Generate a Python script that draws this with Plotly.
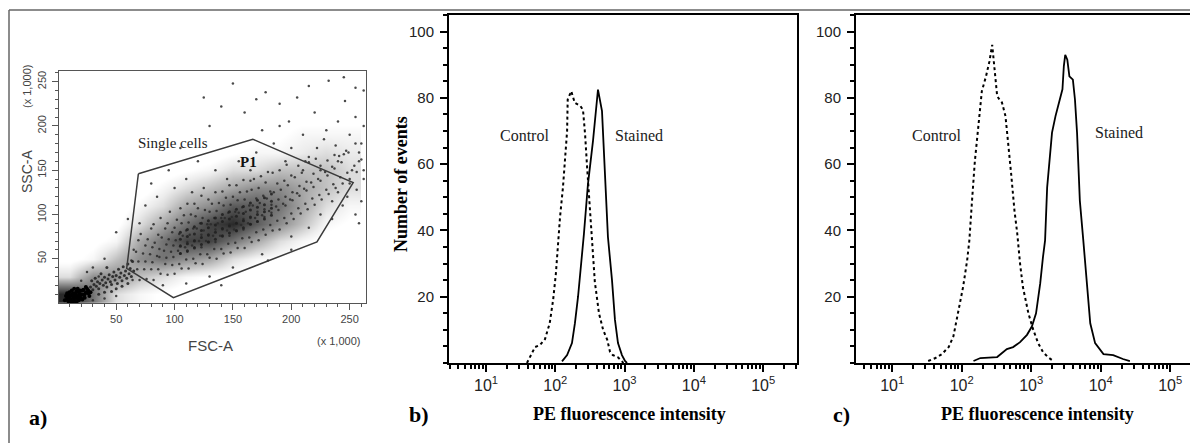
import plotly.graph_objects as go

# The page body keeps an 8 px margin, so the figure is 8 px smaller than the window
W, H = 1190, 435
OFF = 8

# ---------------- panel a) : FSC-A vs SSC-A dot plot (x 1,000) ----------------
debris = [(6,3),(8,5),(9,2),(10,7),(11,4),(12,9),(13,6),(14,3),(15,11),(16,8),(17,5),(18,12),
          (19,7),(20,10),(21,14),(22,9),(23,6),(24,12),(25,16),(26,11),(27,8),(10,12),(12,14),
          (14,16),(9,9),(7,8),(11,2),(13,11),(16,13),(18,3),(20,5),(22,15),(24,18),(17,16),
          (15,6),(19,14),(21,4),(13,1),(8,11),(23,10),(26,14),(28,12),(14,9),(18,9),(16,1)]

tail = [(28,18),(30,15),(31,21),(33,19),(34,24),(35,16),(36,22),(38,26),(39,20),(40,29),(41,23),
        (42,18),(43,27),(44,32),(45,24),(46,21),(47,30),(48,35),(49,26),(50,31),(51,22),(52,38),
        (53,29),(54,34),(55,25),(56,41),(57,31),(58,36),(59,28),(60,44),(61,33),(62,39),(63,30),
        (64,47),(65,36),(29,25),(32,28),(37,33),(42,40),(46,13),(50,16),(55,19),(35,10),(40,12),(60,22)]

cloud = [(64,26),(68,38),(63,48),(67,58),(69,71),
         (70,26),(74,38),(69,47),(73,56),(75,65),(71,78),
         (76,27),(80,38),(75,47),(79,55),(81,63),(77,72),(80,84),
         (82,26),(86,38),(81,46),(85,53),(87,61),(83,68),(86,77),(82,89),
         (88,33),(92,44),(87,52),(91,59),(93,66),(89,74),(92,84),(88,96),
         (94,32),(98,43),(93,51),(97,58),(99,65),(95,72),(98,80),(94,90),(96,103),
         (100,33),(104,44),(99,52),(103,59),(105,65),(101,71),(104,78),(100,85),(102,94),(105,107),
         (106,39),(110,49),(105,56),(109,63),(111,69),(107,76),(110,82),(106,90),(108,99),(111,112),
         (112,39),(116,50),(111,58),(115,65),(117,71),(113,77),(116,84),(112,91),(114,100),(117,112),
         (118,45),(122,55),(117,63),(121,70),(123,77),(119,84),(122,90),(118,98),(120,107),(123,121),
         (124,44),(128,55),(123,63),(127,70),(129,76),(125,82),(128,89),(124,96),(126,105),(129,117),
         (130,51),(134,61),(129,69),(133,76),(135,83),(131,89),(134,96),(130,103),(132,112),(135,125),
         (136,50),(140,61),(135,69),(139,76),(141,83),(137,90),(140,96),(136,104),(138,113),(141,126),
         (142,56),(146,67),(141,75),(145,82),(147,89),(143,96),(146,102),(142,110),(144,119),(147,133),
         (148,57),(152,68),(147,76),(151,83),(153,90),(149,97),(152,103),(148,111),(150,120),(153,133),
         (154,62),(158,73),(153,81),(157,88),(159,95),(155,102),(158,108),(154,116),(156,125),(159,139),
         (160,62),(164,74),(159,83),(163,90),(165,96),(161,103),(164,110),(160,117),(162,126),(165,138),
         (166,69),(170,80),(165,89),(169,96),(171,103),(167,110),(170,118),(166,128),(168,140),
         (172,71),(176,83),(171,92),(175,99),(177,106),(173,113),(176,121),(172,130),(174,143),
         (178,77),(182,88),(177,97),(181,104),(183,111),(179,118),(182,126),(178,136),(180,148),
         (184,82),(188,93),(183,102),(187,109),(189,117),(185,125),(188,135),(184,147),
         (190,83),(194,96),(189,105),(193,112),(195,120),(191,128),(194,138),(190,150),
         (196,90),(200,101),(195,110),(199,117),(201,125),(197,133),(200,144),(196,156),
         (202,95),(206,107),(201,116),(205,124),(207,132),(203,142),(206,155),
         (208,101),(212,112),(207,121),(211,129),(213,137),(209,147),(212,160),
         (214,106),(218,118),(213,127),(217,136),(219,146),(215,159),
         (220,111),(224,122),(219,131),(223,140),(225,150),(221,163),
         (226,117),(230,128),(225,138),(229,148),(231,161),
         (232,123),(236,134),(231,144),(235,154),(237,167),
         (238,130),(242,142),(237,152),(241,166),
         (244,135),(248,147),(243,159),(247,172),
         (250,140),(254,155),(249,170),
         (256,148),(260,162),(255,180)]

core = [(105,56),(105,64),(105,72),(105,80),(111,59),(111,67),(111,75),(111,83),
        (117,62),(117,70),(117,78),(117,86),(123,66),(123,74),(123,82),(123,90),
        (129,69),(129,77),(129,85),(129,93),(135,72),(135,80),(135,88),(135,96),
        (141,76),(141,84),(141,92),(141,100),(147,79),(147,87),(147,95),(147,103),
        (153,82),(153,90),(153,98),(153,106),(159,85),(159,93),(159,101),(159,109),
        (165,89),(165,97),(165,105),(165,113),(171,92),(171,100),(171,108),(171,116),
        (177,95),(177,103),(177,111),(177,119),(183,99),(183,107),(183,115),(183,123)]

outliers = [(150,248),(178,238),(205,232),(232,251),(246,228),(255,243),(220,215),(198,205),
            (240,205),(255,210),(230,195),(210,190),(250,190),(260,180),(238,178),(222,175),
            (245,168),(258,160),(252,150),(262,140),(256,128),(248,120),(260,115),(244,110),
            (255,100),(235,95),(258,90),(120,160),(105,175),(130,200),(140,222),(160,215),
            (95,150),(85,120),(75,110),(60,95),(50,80),(110,140),(135,150),(155,160),(170,170),
            (185,180),(190,200),(175,195),(200,175),(215,165),(228,185),(262,200),(262,240),
            (245,255),(215,245),(190,225),(170,230),(125,232),(100,130),(70,90),(80,135),
            (65,60),(40,50),(30,40),(150,40),(175,55),(200,75),(215,85),(225,100),(180,48),
            (130,30),(110,22),(90,20),(140,20),(200,60),(235,115),(240,125),(250,135),(262,150),
            (258,170),(240,160),(225,155),(210,150),(195,160),(165,150),(145,140),(125,130),
            (115,125),(30,3),(40,5),(50,8),(35,30),(20,25),(25,35)]

# event density (relative shade, 0 = empty, 9 = black)
dens_fsc = [10, 30, 50, 70, 90, 110, 130, 150, 170, 190, 210, 230, 250]
dens_ssc = [10, 30, 50, 70, 90, 110, 130, 150, 170, 190, 210, 230, 250]
density = [
    [9.0, 6.0, 2.0, 1.0, 0.5, 0.0, 0.0, 0.0, 0.0, 0.0, 0.0, 0.0, 0.0],
    [2.0, 5.0, 5.0, 3.0, 2.0, 1.0, 0.5, 0.3, 0.0, 0.0, 0.0, 0.0, 0.0],
    [0.3, 1.0, 3.0, 5.0, 6.0, 5.0, 4.0, 2.0, 1.0, 0.5, 0.2, 0.0, 0.0],
    [0.0, 0.3, 1.0, 4.0, 6.0, 8.0, 8.0, 6.0, 4.0, 2.0, 1.0, 0.3, 0.0],
    [0.0, 0.0, 0.3, 2.0, 4.0, 6.0, 8.0, 9.0, 7.0, 5.0, 3.0, 1.0, 0.5],
    [0.0, 0.0, 0.0, 1.0, 2.0, 4.0, 5.0, 7.0, 7.0, 6.0, 4.0, 2.0, 1.0],
    [0.0, 0.0, 0.0, 0.0, 1.0, 2.0, 3.0, 4.0, 5.0, 5.0, 4.0, 3.0, 2.0],
    [0.0, 0.0, 0.0, 0.0, 0.0, 0.5, 1.0, 2.0, 2.0, 3.0, 3.0, 3.0, 2.0],
    [0.0, 0.0, 0.0, 0.0, 0.0, 0.0, 0.0, 0.5, 1.0, 1.0, 1.5, 2.0, 1.5],
    [0.0, 0.0, 0.0, 0.0, 0.0, 0.0, 0.0, 0.0, 0.3, 0.5, 1.0, 1.0, 1.0],
    [0.0, 0.0, 0.0, 0.0, 0.0, 0.0, 0.0, 0.0, 0.0, 0.3, 0.3, 0.3, 0.3],
    [0.0, 0.0, 0.0, 0.0, 0.0, 0.0, 0.0, 0.0, 0.0, 0.0, 0.0, 0.0, 0.0],
    [0.0, 0.0, 0.0, 0.0, 0.0, 0.0, 0.0, 0.0, 0.0, 0.0, 0.0, 0.0, 0.0],
]

gate_fsc = [69, 167, 253, 222, 99, 59, 69]
gate_ssc = [146, 185, 136, 69, 6, 39, 146]

# ---------------- panel b) : PE histogram ----------------
b_ctrl_x = [39, 43, 51, 60, 71, 83, 93, 102, 110, 117, 129, 148, 151, 170, 191, 229, 251,
            269, 288, 309, 339, 372, 427, 490, 562, 617, 676, 794, 912, 960]
b_ctrl_y = [0, 1.8, 4.8, 5.4, 7.2, 12, 19, 27, 37, 44, 53, 70, 79.5, 82, 78.5, 77.6, 76.4,
            69, 59, 49, 37, 24.5, 15, 10, 7, 3.3, 2.4, 1.8, 0.6, 0]
b_stain_x = [125, 148, 174, 192, 213, 227, 243, 259, 296, 350, 400, 413, 472, 521, 575,
             658, 726, 803, 916, 1014, 1084]
b_stain_y = [0.5, 2.4, 6, 12, 20, 26, 31, 39, 54, 67, 79.5, 82.5, 76, 59, 38,
             25, 13, 6, 2.4, 0.6, 0]

# ---------------- panel c) : PE histogram ----------------
c_ctrl_x = [33, 42, 52, 65, 76, 89, 105, 120, 129, 141, 155, 174, 195, 224, 251, 275, 295,
            324, 347, 380, 427, 468, 513, 575, 631, 692, 759, 912, 1072, 1259, 1479, 1738, 2089]
c_ctrl_y = [0.6, 1.5, 2.7, 4.8, 8, 15, 23, 31, 37, 49, 61, 71.5, 82, 86.5, 91, 96, 89.7,
            80.6, 79.6, 78.6, 74.5, 66.5, 57.5, 46, 39, 30, 23, 15, 10, 6, 3.3, 1.8, 0.6]
c_stain_x = [148, 186, 324, 380, 447, 550, 692, 871, 1023, 1175, 1349, 1479, 1585, 1698,
             1995, 2239, 2455, 2818, 2951, 3090, 3311, 3548, 3981, 4266, 4571, 5012, 5623,
             6457, 7079, 8318, 10965, 15136, 17378, 20893, 26303]
c_stain_y = [0.6, 1.5, 1.8, 3, 4.2, 4.8, 6.3, 8.5, 11, 15, 24, 32, 37, 53,
             69.5, 74.5, 77.6, 82.6, 89.6, 93, 91.5, 86.5, 85.5, 79.5, 69.5, 49, 37,
             22, 12, 6, 2.7, 2.4, 1.8, 1.2, 0.6]

dec_vals = [10, 100, 1000, 10000, 100000]
dec_text = ["10<sup>1</sup>", "10<sup>2</sup>", "10<sup>3</sup>", "10<sup>4</sup>", "10<sup>5</sup>"]
hist_yvals = [20, 40, 60, 80, 100]


def fx(p):
    return min(1.0, max(0.0, (p - OFF) / W))


def fy(p):
    return min(1.0, max(0.0, 1 - (p - OFF) / H))


minor_log = [m * 10 ** e for e in range(0, 6) for m in range(2, 10)]

fig = go.Figure()

fig.add_trace(go.Heatmap(x=dens_fsc, y=dens_ssc, z=density, xaxis="x", yaxis="y",
                         zsmooth="best", zmin=0, zmax=9, showscale=False, hoverinfo="skip",
                         colorscale=[[0, "#ffffff"], [0.07, "#ffffff"], [0.16, "#ededed"],
                                     [0.35, "#bdbdbd"], [0.65, "#777777"], [1, "#2a2a2a"]]))

dot_style = dict(mode="markers", hoverinfo="skip", showlegend=False, xaxis="x", yaxis="y")
fig.add_trace(go.Scatter(x=[p[0] for p in cloud + outliers], y=[p[1] for p in cloud + outliers],
                         marker=dict(size=2.5, color="#2a2a2a", opacity=0.85), **dot_style))
fig.add_trace(go.Scatter(x=[p[0] for p in core + tail], y=[p[1] for p in core + tail],
                         marker=dict(size=3, color="#1e1e1e", opacity=0.85), **dot_style))
fig.add_trace(go.Scatter(x=[p[0] for p in debris], y=[p[1] for p in debris],
                         marker=dict(size=4, color="#000000"), **dot_style))
fig.add_trace(go.Scatter(x=gate_fsc, y=gate_ssc, mode="lines", xaxis="x", yaxis="y",
                         line=dict(color="#3a3a3a", width=1.5), showlegend=False))

fig.add_trace(go.Scatter(x=b_ctrl_x, y=b_ctrl_y, mode="lines", xaxis="x2", yaxis="y2",
                         line=dict(color="black", width=2, dash="dot"), showlegend=False))
fig.add_trace(go.Scatter(x=b_stain_x, y=b_stain_y, mode="lines", xaxis="x2", yaxis="y2",
                         line=dict(color="black", width=1.8), showlegend=False))
fig.add_trace(go.Scatter(x=c_ctrl_x, y=c_ctrl_y, mode="lines", xaxis="x3", yaxis="y3",
                         line=dict(color="black", width=2, dash="dot"), showlegend=False))
fig.add_trace(go.Scatter(x=c_stain_x, y=c_stain_y, mode="lines", xaxis="x3", yaxis="y3",
                         line=dict(color="black", width=1.8), showlegend=False))

sans = "Liberation Sans, Arial, sans-serif"
serif = "Liberation Serif, Times New Roman, serif"

a_axis = dict(showline=True, linecolor="#555", linewidth=1, mirror=True, showgrid=False,
              zeroline=False, ticks="outside", ticklen=6, tickcolor="#555",
              tickfont=dict(family=sans, size=11, color="#444"),
              tickvals=[50, 100, 150, 200, 250],
              minor=dict(tickvals=list(range(10, 261, 10)), ticks="outside", ticklen=3,
                         tickcolor="#555", showgrid=False))

h_xaxis = dict(type="log", showline=True, linecolor="black", linewidth=2, showgrid=False,
               zeroline=False, ticks="outside", ticklen=7, tickwidth=1.5, tickcolor="black",
               tickvals=dec_vals, ticktext=dec_text,
               tickfont=dict(family=sans, size=16, color="#222"),
               minor=dict(tickvals=minor_log, ticks="outside", ticklen=4, tickcolor="black",
                          showgrid=False))
h_yaxis = dict(range=[0, 105], showline=True, linecolor="black", linewidth=2, showgrid=False,
               zeroline=False, ticks="outside", ticklen=7, tickwidth=1.5, tickcolor="black",
               tickvals=hist_yvals, ticklabelstandoff=3,
               tickfont=dict(family=sans, size=15, color="#222"),
               minor=dict(dtick=5, ticks="outside", ticklen=4, tickcolor="black", showgrid=False))

fig.update_layout(
    width=W, height=H, margin=dict(l=0, r=0, t=0, b=0),
    paper_bgcolor="white", plot_bgcolor="white", showlegend=False,
    xaxis=dict(domain=[fx(59), fx(366)], range=[1, 264], anchor="y", **a_axis),
    yaxis=dict(domain=[fy(303), fy(71)], range=[0, 262], anchor="x", tickangle=-90,
               ticklabelstandoff=2, **a_axis),
    xaxis2=dict(domain=[fx(449), fx(797)], range=[0.466, 5.488], anchor="y2", mirror=True, **h_xaxis),
    yaxis2=dict(domain=[fy(363), fy(15)], anchor="x2", mirror=True, **h_yaxis),
    xaxis3=dict(domain=[fx(856), 1.0], range=[0.48, 5.40], anchor="y3", mirror=True, **h_xaxis),
    yaxis3=dict(domain=[fy(363), fy(15)], anchor="x3", mirror=False, **h_yaxis),
)


def note(text, x, y, size, family, color="black", angle=0, bold=False):
    if bold:
        text = "<b>" + text + "</b>"
    fig.add_annotation(text=text, x=fx(x), y=fy(y), xref="paper", yref="paper",
                       showarrow=False, textangle=angle, xanchor="center", yanchor="middle",
                       font=dict(family=family, size=size, color=color))


# panel a texts
note("SSC-A", 27, 172, 14, sans, "#444", angle=-90)
note("(x 1,000)", 27, 87, 11, sans, "#444", angle=-90)
note("FSC-A", 210, 345, 15, sans, "#444")
note("(x 1,000)", 338, 341, 11, sans, "#444")
note("Single cells", 173, 143, 15, serif, "#222")
note("P1", 248, 162, 15, serif, "#111", bold=True)
note("a)", 38, 417, 22, serif, bold=True)

# panel b texts
note("Number of events", 401, 184, 18, serif, angle=-90, bold=True)
note("Control", 524, 135, 16, serif, "#222")
note("Stained", 639, 135, 16, serif, "#222")
note("PE fluorescence intensity", 629, 414, 18, serif, bold=True)
note("b)", 419, 414, 22, serif, bold=True)

# panel c texts
note("Control", 936, 135, 16, serif, "#222")
note("Stained", 1119, 133, 16, serif, "#222")
note("PE fluorescence intensity", 1037, 414, 18, serif, bold=True)
note("c)", 841, 414, 22, serif, bold=True)

# figure frame
fig.add_shape(type="line", xref="paper", yref="paper", x0=fx(9), x1=1, y0=fy(10), y1=fy(10),
              line=dict(color="#666", width=1.5))
fig.add_shape(type="line", xref="paper", yref="paper", x0=fx(9), x1=fx(9), y0=fy(10), y1=0,
              line=dict(color="#666", width=1.5))

fig.write_html("out.html")
